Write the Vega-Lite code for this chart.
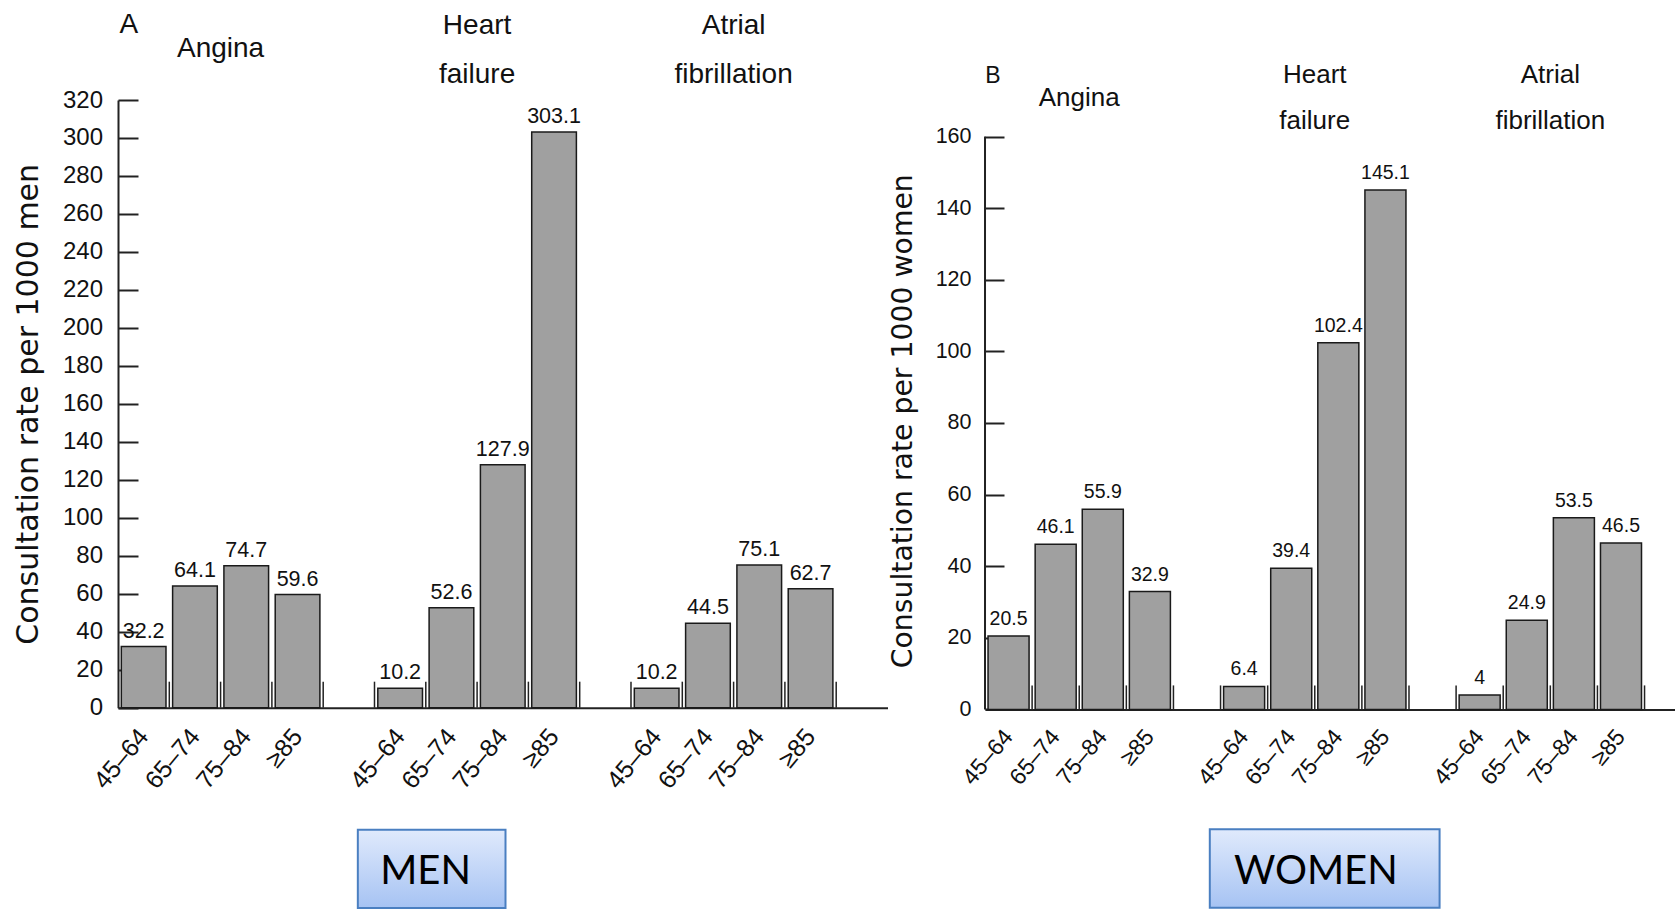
{
  "$schema": "https://vega.github.io/schema/vega-lite/v6.json",
  "background": "white",
  "padding": {"left": 13, "top": 11, "right": 0, "bottom": 0},
  "spacing": 0,
  "config": {"view": {"stroke": null}, "axis": {"grid": false}},
  "datasets": {
    "men": [
      {"condition": "Angina", "age": "45–64", "bar": "Angina|45–64", "rate": 32.2},
      {"condition": "Angina", "age": "65–74", "bar": "Angina|65–74", "rate": 64.1},
      {"condition": "Angina", "age": "75–84", "bar": "Angina|75–84", "rate": 74.7},
      {"condition": "Angina", "age": "≥85", "bar": "Angina|≥85", "rate": 59.6},
      {"condition": "Heart failure", "age": "45–64", "bar": "Heart failure|45–64", "rate": 10.2},
      {"condition": "Heart failure", "age": "65–74", "bar": "Heart failure|65–74", "rate": 52.6},
      {"condition": "Heart failure", "age": "75–84", "bar": "Heart failure|75–84", "rate": 127.9},
      {"condition": "Heart failure", "age": "≥85", "bar": "Heart failure|≥85", "rate": 303.1},
      {"condition": "Atrial fibrillation", "age": "45–64", "bar": "Atrial fibrillation|45–64", "rate": 10.2},
      {"condition": "Atrial fibrillation", "age": "65–74", "bar": "Atrial fibrillation|65–74", "rate": 44.5},
      {"condition": "Atrial fibrillation", "age": "75–84", "bar": "Atrial fibrillation|75–84", "rate": 75.1},
      {"condition": "Atrial fibrillation", "age": "≥85", "bar": "Atrial fibrillation|≥85", "rate": 62.7}
    ],
    "women": [
      {"condition": "Angina", "age": "45–64", "bar": "Angina|45–64", "rate": 20.5},
      {"condition": "Angina", "age": "65–74", "bar": "Angina|65–74", "rate": 46.1},
      {"condition": "Angina", "age": "75–84", "bar": "Angina|75–84", "rate": 55.9},
      {"condition": "Angina", "age": "≥85", "bar": "Angina|≥85", "rate": 32.9},
      {"condition": "Heart failure", "age": "45–64", "bar": "Heart failure|45–64", "rate": 6.4},
      {"condition": "Heart failure", "age": "65–74", "bar": "Heart failure|65–74", "rate": 39.4},
      {"condition": "Heart failure", "age": "75–84", "bar": "Heart failure|75–84", "rate": 102.4},
      {"condition": "Heart failure", "age": "≥85", "bar": "Heart failure|≥85", "rate": 145.1},
      {"condition": "Atrial fibrillation", "age": "45–64", "bar": "Atrial fibrillation|45–64", "rate": 4},
      {"condition": "Atrial fibrillation", "age": "65–74", "bar": "Atrial fibrillation|65–74", "rate": 24.9},
      {"condition": "Atrial fibrillation", "age": "75–84", "bar": "Atrial fibrillation|75–84", "rate": 53.5},
      {"condition": "Atrial fibrillation", "age": "≥85", "bar": "Atrial fibrillation|≥85", "rate": 46.5}
    ]
  },
  "hconcat": [
    {
      "width": 769.5,
      "height": 607.7,
      "data": {"name": "men"},
      "layer": [
        {
          "mark": {"type": "bar", "fill": "#a0a0a0", "stroke": "#1a1a1a", "strokeWidth": 1.5},
          "encoding": {
            "x": {
              "field": "bar", "type": "nominal",
              "scale": {
                "domain": ["Angina|45–64", "Angina|65–74", "Angina|75–84", "Angina|≥85", "g1",
                           "Heart failure|45–64", "Heart failure|65–74", "Heart failure|75–84", "Heart failure|≥85", "g2",
                           "Atrial fibrillation|45–64", "Atrial fibrillation|65–74", "Atrial fibrillation|75–84", "Atrial fibrillation|≥85", "g3"],
                "paddingInner": 0.129, "paddingOuter": 0.0645
              },
              "axis": {
                "title": null,
                "labelExpr": "indexof(datum.value, '|') > 0 ? split(datum.value, '|')[1] : ''",
                "labelAngle": -50, "labelAlign": "right", "labelBaseline": "middle",
                "labelPadding": 24, "labelFont": "Liberation Sans", "labelFontSize": 25,
                "labelColor": "#111", "labelOverlap": false,
                "ticks": false,
                "domainColor": "#222", "domainWidth": 2
              }
            },
            "y": {
              "field": "rate", "type": "quantitative",
              "scale": {"domain": [0, 320], "nice": false},
              "axis": {
                "title": "Consultation rate per 1000 men",
                "titleFont": "DejaVu Sans", "titleFontSize": 30, "titleFontWeight": "normal", "titleColor": "#111",
                "titlePadding": 19,
                "values": [0, 20, 40, 60, 80, 100, 120, 140, 160, 180, 200, 220, 240, 260, 280, 300, 320],
                "tickCount": 40,
                "labelOverlap": false,
                "ticks": false,
                "grid": true, "gridColor": "#222", "gridWidth": 2, "gridDash": [20, 3000], "gridOpacity": 1,
                "domainColor": "#222", "domainWidth": 2,
                "labelFont": "Liberation Sans", "labelFontSize": 24,
                "labelPadding": 15.5, "labelColor": "#111"
              }
            }
          }
        },
        {
          "mark": {"type": "rule", "color": "#222", "strokeWidth": 1.5},
          "encoding": {
            "x": {"field": "bar", "type": "nominal", "bandPosition": 1.074},
            "y": {"datum": 0},
            "y2": {"datum": 13.7}
          }
        },
        {
          "transform": [{"filter": "datum.age == '≥85' && datum.condition != 'Atrial fibrillation'"}],
          "mark": {"type": "rule", "color": "#222", "strokeWidth": 1.5},
          "encoding": {
            "x": {"field": "bar", "type": "nominal", "bandPosition": 2.222},
            "y": {"datum": 0},
            "y2": {"datum": 13.7}
          }
        },
        {
          "mark": {"type": "text", "font": "Liberation Sans", "fontSize": 21.5, "baseline": "alphabetic", "dy": -9, "color": "#111"},
          "encoding": {
            "x": {"field": "bar", "type": "nominal"},
            "y": {"field": "rate", "type": "quantitative"},
            "text": {"field": "rate", "type": "quantitative"}
          }
        },
        {
          "transform": [{"filter": "datum.age == '65–74' && datum.condition != 'Angina'"}],
          "mark": {"type": "text", "font": "Liberation Sans", "fontSize": 28, "lineBreak": " ", "lineHeight": 49, "baseline": "middle", "align": "center", "color": "#111"},
          "encoding": {
            "x": {"field": "bar", "type": "nominal", "bandPosition": 1.074},
            "y": {"datum": 358.8},
            "text": {"field": "condition"}
          }
        },
        {
          "transform": [{"filter": "datum.age == '65–74' && datum.condition == 'Angina'"}],
          "mark": {"type": "text", "font": "Liberation Sans", "fontSize": 28, "baseline": "middle", "align": "center", "color": "#111"},
          "encoding": {
            "x": {"field": "bar", "type": "nominal", "bandPosition": 1.074},
            "y": {"datum": 346.6},
            "text": {"field": "condition"}
          }
        },
        {
          "transform": [{"filter": "datum.bar == 'Angina|45–64'"}],
          "mark": {"type": "text", "font": "Liberation Sans", "fontSize": 28, "baseline": "middle", "align": "center", "color": "#111"},
          "encoding": {
            "x": {"field": "bar", "type": "nominal", "bandPosition": 0.17},
            "y": {"datum": 359.3},
            "text": {"value": "A"}
          }
        },
        {
          "transform": [{"filter": "datum.bar == 'Angina|≥85'"}],
          "mark": {"type": "rect", "stroke": "#4a7fc1", "strokeWidth": 2,
                   "fill": {"gradient": "linear", "x1": 0, "y1": 0, "x2": 0, "y2": 1,
                            "stops": [{"offset": 0, "color": "#e0eafc"}, {"offset": 1, "color": "#a6c3f3"}]}},
          "encoding": {
            "x": {"field": "bar", "type": "nominal", "bandPosition": 1.849},
            "x2": {"field": "bar", "type": "nominal", "bandPosition": 5.154},
            "y": {"datum": -64.3},
            "y2": {"datum": -105.5}
          }
        },
        {
          "transform": [{"filter": "datum.bar == 'Heart failure|45–64'"}],
          "mark": {"type": "text", "font": "Lato", "fontSize": 40, "baseline": "alphabetic", "align": "center", "color": "#000"},
          "encoding": {
            "x": {"field": "bar", "type": "nominal", "bandPosition": 1.07},
            "y": {"datum": -92.7},
            "text": {"value": "MEN"}
          }
        }
      ]
    },
    {
      "width": 692,
      "height": 609.4,
      "data": {"name": "women"},
      "layer": [
        {
          "mark": {"type": "bar", "fill": "#a0a0a0", "stroke": "#1a1a1a", "strokeWidth": 1.5},
          "encoding": {
            "x": {
              "field": "bar", "type": "nominal",
              "scale": {
                "domain": ["Angina|45–64", "Angina|65–74", "Angina|75–84", "Angina|≥85", "g1",
                           "Heart failure|45–64", "Heart failure|65–74", "Heart failure|75–84", "Heart failure|≥85", "g2",
                           "Atrial fibrillation|45–64", "Atrial fibrillation|65–74", "Atrial fibrillation|75–84", "Atrial fibrillation|≥85"],
                "paddingInner": 0.129, "paddingOuter": 0.409, "align": 0.079
              },
              "axis": {
                "title": null,
                "labelExpr": "indexof(datum.value, '|') > 0 ? split(datum.value, '|')[1] : ''",
                "labelAngle": -50, "labelAlign": "right", "labelBaseline": "middle",
                "labelPadding": 23, "labelFont": "Liberation Sans", "labelFontSize": 23,
                "labelColor": "#111", "labelOverlap": false,
                "ticks": false,
                "domainColor": "#222", "domainWidth": 2
              }
            },
            "y": {
              "field": "rate", "type": "quantitative",
              "scale": {"domain": [0, 170.22], "nice": false},
              "axis": {
                "title": "Consultation rate per 1000 women",
                "titleFont": "DejaVu Sans", "titleFontSize": 28.3, "titleFontWeight": "normal", "titleColor": "#111",
                "titlePadding": 18, "titleY": 320.7,
                "values": [0, 20, 40, 60, 80, 100, 120, 140, 160],
                "tickCount": 40,
                "labelOverlap": false,
                "domain": false,
                "ticks": false,
                "grid": true, "gridColor": "#222", "gridWidth": 2, "gridDash": [19, 3000], "gridOpacity": 1,
                "labelFont": "Liberation Sans", "labelFontSize": 21.5,
                "labelPadding": 14, "labelColor": "#111"
              }
            }
          }
        },
        {
          "transform": [{"filter": "datum.bar == 'Angina|45–64'"}],
          "mark": {"type": "rule", "color": "#222", "strokeWidth": 2, "xOffset": -3.04},
          "encoding": {
            "x": {"field": "bar", "type": "nominal", "bandPosition": 0.0001},
            "y": {"datum": 0},
            "y2": {"datum": 160}
          }
        },
        {
          "mark": {"type": "rule", "color": "#222", "strokeWidth": 1.5},
          "encoding": {
            "x": {"field": "bar", "type": "nominal", "bandPosition": 1.074},
            "y": {"datum": 0},
            "y2": {"datum": 6.7}
          }
        },
        {
          "transform": [{"filter": "datum.age == '≥85' && datum.condition != 'Atrial fibrillation'"}],
          "mark": {"type": "rule", "color": "#222", "strokeWidth": 1.5},
          "encoding": {
            "x": {"field": "bar", "type": "nominal", "bandPosition": 2.222},
            "y": {"datum": 0},
            "y2": {"datum": 6.7}
          }
        },
        {
          "mark": {"type": "text", "font": "Liberation Sans", "fontSize": 19.5, "baseline": "alphabetic", "dy": -11, "color": "#111"},
          "encoding": {
            "x": {"field": "bar", "type": "nominal"},
            "y": {"field": "rate", "type": "quantitative"},
            "text": {"field": "rate", "type": "quantitative"}
          }
        },
        {
          "transform": [{"filter": "datum.age == '65–74' && datum.condition != 'Angina'"}],
          "mark": {"type": "text", "font": "Liberation Sans", "fontSize": 26, "lineBreak": " ", "lineHeight": 46, "baseline": "middle", "align": "center", "color": "#111"},
          "encoding": {
            "x": {"field": "bar", "type": "nominal", "bandPosition": 1.074},
            "y": {"datum": 177.3},
            "text": {"field": "condition"}
          }
        },
        {
          "transform": [{"filter": "datum.age == '65–74' && datum.condition == 'Angina'"}],
          "mark": {"type": "text", "font": "Liberation Sans", "fontSize": 26, "baseline": "middle", "align": "center", "color": "#111"},
          "encoding": {
            "x": {"field": "bar", "type": "nominal", "bandPosition": 1.074},
            "y": {"datum": 170.9},
            "text": {"field": "condition"}
          }
        },
        {
          "transform": [{"filter": "datum.bar == 'Angina|45–64'"}],
          "mark": {"type": "text", "font": "Liberation Sans", "fontSize": 23, "baseline": "middle", "align": "center", "color": "#111"},
          "encoding": {
            "x": {"field": "bar", "type": "nominal", "bandPosition": 0.12},
            "y": {"datum": 177},
            "text": {"value": "B"}
          }
        },
        {
          "transform": [{"filter": "datum.bar == 'Angina|≥85'"}],
          "mark": {"type": "rect", "stroke": "#4a7fc1", "strokeWidth": 2,
                   "fill": {"gradient": "linear", "x1": 0, "y1": 0, "x2": 0, "y2": 1,
                            "stops": [{"offset": 0, "color": "#e0eafc"}, {"offset": 1, "color": "#a6c3f3"}]}},
          "encoding": {
            "x": {"field": "bar", "type": "nominal", "bandPosition": 1.96},
            "x2": {"field": "bar", "type": "nominal", "bandPosition": 7.56},
            "y": {"datum": -33.5},
            "y2": {"datum": -55.4}
          }
        },
        {
          "transform": [{"filter": "datum.bar == 'Heart failure|65–74'"}],
          "mark": {"type": "text", "font": "Lato", "fontSize": 40, "baseline": "alphabetic", "align": "center", "color": "#000"},
          "encoding": {
            "x": {"field": "bar", "type": "nominal", "bandPosition": 1.1},
            "y": {"datum": -48.9},
            "text": {"value": "WOMEN"}
          }
        }
      ]
    }
  ]
}
